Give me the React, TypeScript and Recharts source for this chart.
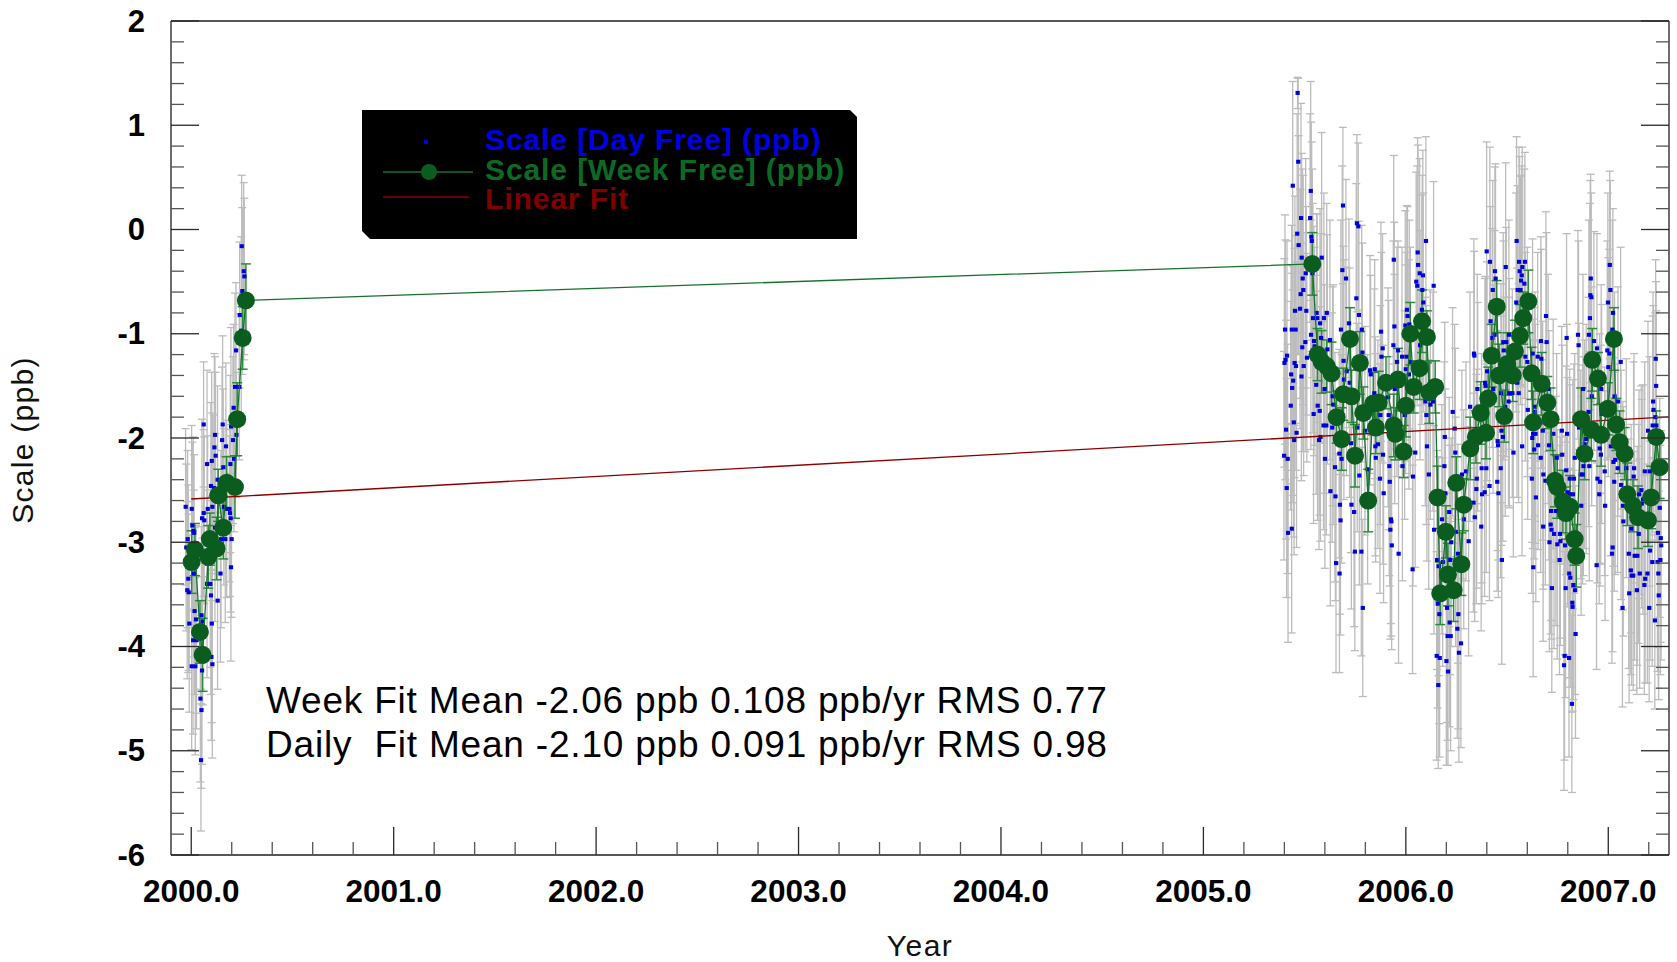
import { ScatterChart, Scatter, XAxis, YAxis, ErrorBar } from 'recharts'

// [decimal year, scale (ppb), error (ppb)]
type Pt = [number, number, number]

const yearTicks = [2000, 2001, 2002, 2003, 2004, 2005, 2006, 2007]
const yearMinorTicks = [
  2000.2, 2000.4, 2000.6, 2000.8, 2001.2, 2001.4, 2001.6, 2001.8, 2002.2, 2002.4, 2002.6, 2002.8,
  2003.2, 2003.4, 2003.6, 2003.8, 2004.2, 2004.4, 2004.6, 2004.8, 2005.2, 2005.4, 2005.6, 2005.8,
  2006.2, 2006.4, 2006.6, 2006.8, 2007.2,
]
const scaleTicks = [-6, -5, -4, -3, -2, -1, 0, 1, 2]
const scaleMinorTicks = [
  -5.8, -5.6, -5.4, -5.2, -4.8, -4.6, -4.4, -4.2, -3.8, -3.6, -3.4, -3.2, -2.8, -2.6, -2.4, -2.2,
  -1.8, -1.6, -1.4, -1.2, -0.8, -0.6, -0.4, -0.2, 0.2, 0.4, 0.6, 0.8, 1.2, 1.4, 1.6, 1.8,
]

// daily solution, early 2000
const day2000: Pt[] = [
  [2000.249, -0.16, 0.68], [2000.259, -0.4, 0.85], [2000.262, -0.45, 0.75], [2000.252, -0.59, 0.8],
  [2000.239, -0.82, 0.7], [2000.247, -0.97, 0.9], [2000.221, -1.16, 0.65], [2000.216, -1.51, 0.9],
  [2000.237, -1.51, 0.7], [2000.209, -1.71, 0.8], [2000.061, -1.87, 0.6], [2000.155, -1.87, 0.85],
  [2000.196, -1.89, 0.95], [2000.117, -1.97, 0.75], [2000.223, -1.97, 0.6], [2000.152, -2.02, 0.7],
  [2000.206, -2.02, 0.8], [2000.114, -2.09, 0.9], [2000.171, -2.08, 0.8], [2000.101, -2.22, 0.85],
  [2000.078, -2.25, 0.9], [2000.211, -2.2, 0.7], [2000.12, -2.17, 0.8], [2000.158, -2.28, 0.75],
  [2000.193, -2.25, 0.85], [2000.097, -2.46, 0.8], [2000.112, -2.48, 0.7], [2000.13, -2.4, 0.9],
  [1999.972, -2.66, 0.75], [2000.002, -2.68, 0.8], [2000.104, -2.66, 0.9], [2000.081, -2.68, 0.7],
  [2000.061, -2.72, 0.8], [2000.053, -2.77, 0.95], [2000.064, -2.79, 0.8], [2000.161, -2.66, 0.75],
  [2000.175, -2.68, 0.85], [2000.188, -2.68, 0.7], [2000.191, -2.72, 0.8], [2000.194, -2.77, 0.9],
  [2000.005, -2.84, 0.8], [2000.01, -2.89, 0.9], [2000.014, -2.91, 0.75], [1999.982, -2.97, 0.85],
  [1999.975, -3.05, 0.8], [2000.117, -2.86, 0.9], [2000.147, -2.97, 0.85], [2000.168, -2.97, 0.8],
  [2000.199, -2.97, 0.75], [2000.196, -3.24, 0.9], [2000.144, -3.3, 0.85], [2000.012, -3.3, 0.8],
  [1999.985, -3.35, 0.9], [1999.98, -3.46, 0.85], [1999.987, -3.48, 0.75], [2000.078, -3.4, 0.9],
  [2000.094, -3.4, 0.8], [2000.097, -3.51, 0.95], [2000.13, -3.56, 0.85], [2000.016, -3.66, 0.8],
  [2000.05, -3.7, 0.85], [2000.023, -3.74, 0.9], [2000.056, -3.76, 0.8], [2000.101, -3.78, 0.95],
  [1999.99, -3.78, 0.85], [2000.009, -3.94, 0.9], [2000.026, -3.94, 0.85], [2000.099, -4.1, 0.8],
  [2000.104, -4.17, 0.9], [2000.002, -4.19, 0.8], [2000.02, -4.19, 0.85], [2000.053, -4.23, 0.9],
  [2000.045, -4.5, 0.8], [2000.05, -4.61, 0.75], [2000.048, -5.09, 0.68],
]

// daily solution, mid 2005 - end 2005
const day2005: Pt[] = [
  [2005.465, 1.31, 0.15], [2005.468, 0.65, 0.8], [2005.441, 0.42, 1.0], [2005.53, 0.37, 1.05],
  [2005.482, 0.11, 1.1], [2005.527, 0.11, 1.0], [2005.463, -0.04, 1.15], [2005.533, -0.07, 1.1],
  [2005.535, -0.11, 0.95], [2005.47, -0.15, 1.05], [2005.485, -0.27, 1.0], [2005.584, -0.27, 1.2],
  [2005.689, 0.23, 0.75], [2005.758, 0.06, 0.85], [2005.765, 0.03, 0.8], [2005.505, -0.42, 1.1],
  [2005.538, -0.42, 1.0], [2005.49, -0.47, 1.05], [2005.686, -0.39, 1.0], [2005.704, -0.47, 0.95],
  [2005.493, -0.58, 1.1], [2005.48, -0.62, 1.0], [2005.755, -0.66, 1.1], [2005.477, -0.76, 1.15],
  [2005.508, -0.78, 1.0], [2005.452, -0.78, 1.1], [2005.559, -0.8, 0.95], [2005.609, -0.8, 1.05],
  [2005.768, -0.82, 0.9], [2005.541, -0.85, 1.1], [2005.562, -0.85, 1.0], [2005.595, -0.85, 1.2],
  [2005.576, -0.9, 1.1], [2005.719, -0.9, 1.0], [2005.403, -0.96, 1.1], [2005.436, -0.96, 1.0],
  [2005.455, -0.96, 0.9], [2005.679, -0.96, 1.05], [2005.782, -0.96, 1.0], [2005.531, -1.01, 1.1],
  [2005.581, -1.04, 1.0], [2005.625, -1.06, 1.15], [2005.503, -1.08, 1.05], [2005.546, -1.07, 1.1],
  [2005.488, -1.13, 1.0], [2005.549, -1.12, 0.95], [2005.612, -1.15, 1.1], [2005.785, -1.18, 1.05],
  [2005.413, -1.21, 1.1], [2005.511, -1.23, 1.0], [2005.405, -1.25, 1.15], [2005.4, -1.28, 1.0],
  [2005.45, -1.28, 1.1], [2005.457, -1.31, 1.0], [2005.495, -1.31, 1.05], [2005.692, -1.26, 1.1],
  [2005.707, -1.36, 1.0], [2005.823, -1.35, 1.1], [2005.433, -1.39, 1.05], [2005.484, -1.41, 1.0],
  [2005.694, -1.44, 1.15], [2005.443, -1.45, 1.1], [2005.826, -1.39, 0.95], [2005.557, -1.49, 1.05],
  [2005.722, -1.47, 1.1], [2005.598, -1.53, 1.0], [2005.438, -1.52, 1.1], [2005.638, -1.6, 1.05],
  [2005.431, -1.69, 1.0], [2005.564, -1.69, 1.1], [2005.574, -1.74, 1.0], [2005.544, -1.77, 1.05],
  [2005.641, -1.68, 1.15], [2005.446, -1.85, 1.1], [2005.593, -1.88, 1.0], [2005.607, -1.88, 1.05],
  [2005.636, -1.9, 1.1], [2005.76, -1.9, 1.0], [2005.408, -1.92, 1.05], [2005.46, -1.95, 1.1],
  [2005.578, -1.99, 1.0], [2005.571, -2.02, 1.05], [2005.448, -2.02, 1.1], [2005.798, -1.93, 1.0],
  [2005.729, -2.05, 1.05], [2005.398, -2.17, 1.0], [2005.416, -2.2, 1.1], [2005.6, -2.2, 1.05],
  [2005.682, -2.2, 1.0], [2005.65, -2.28, 1.1], [2005.671, -2.15, 1.0], [2005.77, -2.36, 1.05],
  [2005.811, -2.3, 1.1], [2005.411, -2.48, 1.05], [2005.627, -2.51, 1.1], [2005.652, -2.56, 1.0],
  [2005.674, -2.64, 1.05], [2005.731, -2.64, 1.0], [2005.744, -2.71, 1.1], [2005.436, -2.87, 1.0],
  [2005.418, -2.91, 1.05], [2005.677, -2.79, 1.1], [2005.748, -3.09, 0.95], [2005.78, -3.09, 1.0],
  [2005.655, -3.2, 1.05], [2005.672, -3.3, 0.95], [2005.787, -3.63, 0.85],
]

// daily solution, end 2005 - spring 2006
const day2006a: Pt[] = [
  [2005.94, -0.29, 1.0], [2006.058, -0.22, 1.1], [2006.099, -0.11, 1.0], [2006.06, -0.34, 1.15],
  [2006.068, -0.42, 1.1], [2006.084, -0.44, 1.2], [2006.051, -0.5, 1.05], [2006.056, -0.54, 1.15],
  [2006.137, -0.54, 1.0], [2006.081, -0.58, 1.1], [2006.086, -0.7, 1.05], [2006.005, -0.77, 1.0],
  [2006.079, -0.77, 1.1], [2006.008, -0.83, 1.05], [2005.943, -0.93, 1.0], [2005.997, -0.92, 1.1],
  [2006.017, -0.91, 1.0], [2005.877, -0.98, 1.05], [2005.885, -1.14, 1.1], [2005.938, -1.11, 1.0],
  [2005.961, -1.16, 1.05], [2006.07, -1.11, 1.1], [2005.879, -1.22, 1.0], [2005.956, -1.27, 1.1],
  [2005.981, -1.22, 1.05], [2006.003, -1.22, 1.0], [2006.022, -1.27, 1.1], [2005.846, -1.34, 1.05],
  [2005.999, -1.34, 1.0], [2006.015, -1.39, 1.1], [2005.844, -1.57, 1.0], [2005.912, -1.61, 1.05],
  [2005.945, -1.53, 1.1], [2006.096, -1.65, 1.0], [2006.134, -1.65, 1.05], [2006.121, -1.68, 1.1],
  [2006.231, -1.75, 1.0], [2005.874, -1.78, 1.05], [2005.915, -1.78, 1.1], [2005.994, -1.78, 1.0],
  [2006.101, -1.78, 1.05], [2006.241, -1.91, 1.0], [2006.192, -1.99, 1.1], [2005.849, -2.08, 1.05],
  [2005.862, -2.06, 1.0], [2006.104, -2.08, 1.1], [2005.851, -2.19, 1.0], [2005.887, -2.16, 1.05],
  [2006.046, -2.14, 1.1], [2006.244, -2.14, 1.0], [2005.918, -2.27, 1.05], [2005.983, -2.27, 1.1],
  [2006.19, -2.27, 1.0], [2006.297, -2.32, 1.05], [2005.872, -2.39, 1.1], [2005.92, -2.42, 1.0],
  [2006.035, -2.37, 1.05], [2006.113, -2.35, 1.1], [2006.277, -2.35, 1.0], [2005.89, -2.53, 1.05],
  [2006.195, -2.53, 1.0], [2006.214, -2.71, 1.1], [2006.286, -2.78, 1.05], [2005.926, -2.78, 1.0],
  [2005.928, -2.8, 1.1], [2005.923, -2.88, 1.05], [2006.139, -2.88, 1.0], [2006.178, -2.78, 1.1],
  [2005.93, -3.03, 1.0], [2005.964, -3.11, 1.05], [2006.246, -2.9, 1.1], [2006.224, -3.0, 1.0],
  [2006.257, -3.11, 1.05], [2006.31, -2.99, 1.1], [2006.033, -3.26, 1.0], [2006.154, -3.17, 1.05],
  [2006.182, -3.19, 1.0], [2006.219, -3.17, 1.1], [2006.162, -3.23, 1.05], [2006.157, -3.59, 1.0],
  [2006.203, -3.63, 1.1], [2006.165, -3.69, 1.05], [2006.216, -3.77, 1.0], [2006.259, -3.69, 1.1],
  [2006.254, -3.83, 1.05], [2006.206, -3.9, 1.0], [2006.221, -3.9, 1.1], [2006.272, -3.97, 1.0],
  [2006.262, -4.06, 1.05], [2006.152, -4.09, 1.0], [2006.167, -4.11, 0.95], [2006.2, -4.14, 1.0],
  [2006.208, -4.24, 0.9], [2006.16, -4.37, 0.8],
]

// daily solution, spring - autumn 2006
const day2006b: Pt[] = [
  [2006.547, -0.11, 1.0], [2006.399, -0.21, 1.05], [2006.415, -0.31, 1.1], [2006.493, -0.36, 1.0],
  [2006.559, -0.31, 1.1], [2006.588, -0.31, 1.05], [2006.575, -0.36, 1.15], [2006.44, -0.4, 1.0],
  [2006.562, -0.4, 1.1], [2006.572, -0.44, 1.05], [2006.443, -0.47, 1.1], [2006.569, -0.49, 1.0],
  [2006.585, -0.52, 1.1], [2006.429, -0.58, 1.05], [2006.552, -0.58, 1.0], [2006.566, -0.58, 1.1],
  [2006.545, -0.7, 1.05], [2006.692, -0.83, 1.0], [2006.418, -0.88, 1.1], [2006.438, -1.01, 1.0],
  [2006.427, -1.04, 1.05], [2006.509, -1.01, 1.1], [2006.794, -1.04, 1.0], [2006.481, -1.08, 1.05],
  [2006.496, -1.08, 1.1], [2006.667, -1.07, 1.0], [2006.695, -1.08, 1.05], [2006.336, -1.19, 1.1],
  [2006.338, -1.21, 1.0], [2006.483, -1.16, 1.05], [2006.626, -1.19, 1.1], [2006.651, -1.22, 1.0],
  [2006.669, -1.24, 1.05], [2006.6, -1.27, 1.1], [2006.59, -1.22, 1.0], [2006.401, -1.36, 1.05],
  [2006.549, -1.47, 1.1], [2006.391, -1.47, 1.0], [2006.393, -1.5, 1.05], [2006.353, -1.53, 1.1],
  [2006.431, -1.53, 1.0], [2006.47, -1.57, 1.05], [2006.511, -1.57, 1.1], [2006.526, -1.57, 1.0],
  [2006.557, -1.57, 1.05], [2006.703, -1.53, 1.1], [2006.507, -1.65, 1.0], [2006.491, -1.7, 1.05],
  [2006.317, -1.7, 1.1], [2006.355, -1.7, 1.0], [2006.602, -1.73, 1.05], [2006.638, -1.7, 1.1],
  [2006.636, -1.75, 1.0], [2006.64, -1.96, 1.05], [2006.628, -1.96, 1.1], [2006.624, -2.0, 1.0],
  [2006.676, -1.93, 1.05], [2006.728, -1.96, 1.1], [2006.77, -1.93, 1.0], [2006.796, -1.96, 1.05],
  [2006.472, -1.93, 1.1], [2006.479, -1.99, 1.0], [2006.453, -2.03, 1.05], [2006.455, -2.07, 1.1],
  [2006.653, -2.07, 1.0], [2006.574, -2.08, 1.05], [2006.707, -2.07, 1.1], [2006.531, -2.14, 1.0],
  [2006.634, -2.11, 1.05], [2006.666, -2.19, 1.1], [2006.745, -2.19, 1.0], [2006.772, -2.16, 1.05],
  [2006.374, -2.29, 1.1], [2006.397, -2.29, 1.0], [2006.468, -2.29, 1.05], [2006.679, -2.35, 1.1],
  [2006.792, -2.31, 1.0], [2006.35, -2.39, 1.05], [2006.622, -2.39, 1.1], [2006.689, -2.41, 1.0],
  [2006.451, -2.42, 1.05], [2006.413, -2.46, 1.1], [2006.389, -2.52, 1.0], [2006.376, -2.54, 1.05],
  [2006.348, -2.49, 1.1], [2006.457, -2.53, 1.0], [2006.334, -2.62, 1.05], [2006.799, -2.52, 1.1],
  [2006.642, -2.57, 1.0], [2006.717, -2.7, 1.05], [2006.741, -2.7, 1.1], [2006.34, -2.76, 1.0],
  [2006.715, -2.83, 1.05], [2006.678, -2.85, 1.1], [2006.372, -2.85, 1.0], [2006.719, -2.88, 1.05],
  [2006.732, -2.92, 1.1], [2006.761, -2.92, 1.0], [2006.709, -3.0, 1.05], [2006.748, -3.02, 1.1],
  [2006.763, -2.99, 1.0], [2006.786, -3.03, 1.05], [2006.474, -3.17, 1.0], [2006.759, -3.17, 1.1],
  [2006.629, -3.24, 1.05], [2006.721, -3.44, 1.0], [2006.789, -3.44, 1.05], [2006.784, -4.09, 1.0],
  [2006.781, -4.18, 1.2],
]

// daily solution, autumn 2006 - spring 2007
const day2007: Pt[] = [
  [2007.007, -0.34, 0.9], [2006.913, -0.47, 1.0], [2007.01, -0.58, 1.05], [2006.911, -0.63, 1.1],
  [2006.916, -0.65, 1.0], [2006.998, -0.7, 1.05], [2007.023, -0.8, 1.0], [2006.909, -0.85, 1.1],
  [2007.02, -0.96, 1.05], [2006.85, -1.01, 1.0], [2006.904, -1.01, 1.1], [2006.929, -1.07, 1.05],
  [2006.853, -1.11, 1.0], [2006.944, -1.14, 1.1], [2006.995, -1.16, 1.05], [2007.005, -1.19, 1.0],
  [2007.061, -1.27, 1.1], [2007.234, -1.24, 0.95], [2007.0, -1.32, 1.05], [2006.965, -1.53, 1.0],
  [2006.875, -1.53, 1.1], [2006.918, -1.6, 1.05], [2007.031, -1.6, 1.0], [2007.048, -1.65, 1.1],
  [2007.236, -1.5, 1.0], [2007.221, -1.65, 1.05], [2007.223, -1.73, 1.0], [2006.902, -1.75, 1.1],
  [2006.967, -1.77, 1.05], [2007.232, -1.8, 1.0], [2007.219, -1.88, 1.05], [2007.237, -1.88, 1.1],
  [2006.855, -1.9, 1.0], [2007.196, -1.93, 1.05], [2006.891, -2.01, 1.1], [2006.883, -2.06, 1.0],
  [2007.012, -2.08, 1.05], [2006.957, -2.1, 1.1], [2006.834, -2.19, 1.0], [2006.963, -2.16, 1.05],
  [2007.034, -2.21, 1.1], [2007.025, -2.23, 1.0], [2006.877, -2.27, 1.05], [2006.906, -2.27, 1.1],
  [2007.046, -2.29, 1.0], [2007.089, -2.29, 1.05], [2007.127, -2.29, 1.1], [2006.982, -2.32, 1.0],
  [2007.18, -2.32, 1.05], [2007.204, -2.32, 1.1], [2006.864, -2.35, 1.0], [2006.873, -2.35, 1.05],
  [2007.125, -2.37, 1.1], [2006.946, -2.39, 1.0], [2006.809, -2.39, 1.05], [2006.83, -2.39, 1.1],
  [2006.959, -2.42, 1.0], [2007.029, -2.42, 1.05], [2007.063, -2.45, 1.1], [2007.163, -2.5, 1.0],
  [2006.811, -2.54, 1.05], [2006.825, -2.54, 1.1], [2007.152, -2.54, 1.0], [2006.955, -2.54, 1.05],
  [2007.171, -2.59, 1.1], [2007.165, -2.63, 1.0], [2006.866, -2.65, 1.05], [2006.984, -2.65, 1.1],
  [2007.072, -2.65, 1.0], [2007.254, -2.67, 1.05], [2007.074, -2.8, 1.1], [2007.113, -2.87, 1.0],
  [2007.15, -2.92, 1.05], [2007.245, -2.91, 1.1], [2007.259, -2.96, 1.0], [2007.206, -3.08, 1.05],
  [2007.261, -3.03, 1.1], [2007.021, -3.05, 1.0], [2007.018, -3.11, 1.05], [2007.101, -3.11, 1.1],
  [2007.13, -3.13, 1.0], [2007.143, -3.13, 1.05], [2007.257, -3.17, 1.1], [2007.217, -3.19, 1.0],
  [2007.243, -3.19, 1.05], [2007.155, -3.3, 1.1], [2007.111, -3.27, 1.0], [2007.115, -3.32, 1.05],
  [2007.123, -3.32, 1.1], [2007.182, -3.35, 1.0], [2007.193, -3.3, 1.05], [2007.247, -3.3, 1.1],
  [2006.807, -3.3, 1.0], [2006.812, -3.34, 1.05], [2006.827, -3.41, 1.1], [2006.836, -3.46, 1.0],
  [2007.178, -3.41, 1.05], [2007.141, -3.46, 1.0], [2007.103, -3.49, 1.05], [2007.249, -3.51, 1.0],
  [2006.822, -3.58, 1.05], [2006.823, -3.62, 1.0], [2007.07, -3.63, 0.95], [2007.202, -3.63, 0.9],
  [2007.23, -3.75, 0.85], [2006.838, -3.88, 1.0], [2006.806, -4.11, 0.95], [2006.942, -3.22, 1.0],
  [2006.82, -4.55, 0.85],
]

// weekly solution (connected in time order)
const week2000: Pt[] = [
  [2000.002, -3.19, 0.3], [2000.018, -3.07, 0.25], [2000.043, -3.86, 0.3], [2000.056, -4.08, 0.35],
  [2000.084, -3.14, 0.3], [2000.092, -2.97, 0.25], [2000.125, -3.06, 0.3], [2000.133, -2.55, 0.25],
  [2000.158, -2.86, 0.3], [2000.175, -2.43, 0.25], [2000.216, -2.47, 0.3], [2000.227, -1.82, 0.35],
  [2000.254, -1.04, 0.3], [2000.27, -0.68, 0.35],
]

const week2005: Pt[] = [
  [2005.538, -0.33, 0.3], [2005.564, -1.2, 0.25], [2005.584, -1.27, 0.3], [2005.609, -1.31, 0.25],
  [2005.633, -1.38, 0.3], [2005.658, -1.8, 0.25], [2005.683, -2.01, 0.3], [2005.691, -1.58, 0.25],
  [2005.724, -1.05, 0.3], [2005.732, -1.6, 0.25], [2005.749, -2.17, 0.3], [2005.773, -1.28, 0.3],
  [2005.79, -1.76, 0.25], [2005.814, -2.6, 0.3], [2005.839, -1.67, 0.3], [2005.852, -1.9, 0.25],
  [2005.866, -1.66, 0.3], [2005.902, -1.47, 0.25], [2005.94, -1.88, 0.3], [2005.948, -1.96, 0.25],
  [2005.961, -1.44, 0.3], [2005.989, -2.13, 0.25], [2006.0, -1.69, 0.3], [2006.022, -1.0, 0.3],
  [2006.039, -1.51, 0.25], [2006.068, -1.33, 0.3], [2006.08, -0.88, 0.3], [2006.104, -1.03, 0.25],
  [2006.116, -1.56, 0.3], [2006.145, -1.51, 0.25], [2006.157, -2.57, 0.3], [2006.17, -3.49, 0.3],
  [2006.198, -2.9, 0.25], [2006.208, -3.31, 0.3], [2006.236, -3.46, 0.3], [2006.249, -2.43, 0.25],
  [2006.274, -3.21, 0.3], [2006.286, -2.64, 0.25], [2006.318, -2.1, 0.3], [2006.346, -1.99, 0.25],
  [2006.37, -1.76, 0.3], [2006.396, -1.95, 0.25], [2006.407, -1.62, 0.3], [2006.424, -1.21, 0.3],
  [2006.449, -0.74, 0.25], [2006.461, -1.4, 0.3], [2006.486, -1.79, 0.25], [2006.501, -1.29, 0.3],
  [2006.528, -1.4, 0.25], [2006.539, -1.17, 0.3], [2006.564, -1.02, 0.3], [2006.58, -0.85, 0.25],
  [2006.605, -0.69, 0.3], [2006.621, -1.38, 0.25], [2006.629, -1.85, 0.3], [2006.671, -1.48, 0.3],
  [2006.699, -1.66, 0.25], [2006.715, -1.82, 0.3], [2006.737, -2.41, 0.25], [2006.748, -2.47, 0.3],
  [2006.776, -2.61, 0.3], [2006.791, -2.72, 0.25], [2006.811, -2.66, 0.3], [2006.834, -2.97, 0.25],
  [2006.842, -3.13, 0.3], [2006.866, -1.82, 0.3], [2006.883, -2.15, 0.25], [2006.916, -1.92, 0.3],
  [2006.921, -1.25, 0.3], [2006.949, -1.43, 0.25], [2006.965, -1.97, 0.3], [2006.998, -1.72, 0.25],
  [2007.028, -1.05, 0.3], [2007.039, -1.87, 0.25], [2007.056, -2.04, 0.3], [2007.081, -2.15, 0.25],
  [2007.094, -2.54, 0.3], [2007.122, -2.65, 0.25], [2007.147, -2.76, 0.3], [2007.196, -2.79, 0.25],
  [2007.212, -2.57, 0.3], [2007.237, -1.99, 0.25], [2007.254, -2.28, 0.3],
]

// linear fit end points
const fitYears = [2000.0, 2007.3]
const fitValues = [-2.585, -1.797]

const toRows = (pts: Pt[]) => pts.map(([x, y, e]) => ({ x, y, e }))

const dailyRows = toRows([...day2000, ...day2005, ...day2006a, ...day2006b, ...day2007])
const weekRows = toRows([...week2000, ...week2005])
const fitRows = fitYears.map((x, i) => ({ x, y: fitValues[i] }))

const allYearTicks = [...yearTicks, ...yearMinorTicks]
const allScaleTicks = [...scaleTicks, ...scaleMinorTicks]

const FONT = '"Liberation Sans", Arial, Helvetica, sans-serif'
const X_DOMAIN: [number, number] = [1999.9, 2007.3]
const Y_DOMAIN: [number, number] = [-6, 2]

const DAY_BLUE = '#0000dc'
const WEEK_GREEN = '#0a5d1f'
const FIT_RED = '#8a0000'

const MAJOR_LEN = 28
const MINOR_LEN = 13

const axisLineStyle = { stroke: '#1e1e1e', strokeWidth: 1.3 }
const tickStroke = (major: boolean) => ({ stroke: major ? '#2a2a2a' : '#555', strokeWidth: 1.3 })

// inward tick marks drawn from the axis position that recharts hands each tick
const bottomTick = (props: any) => {
  const v = Number(props.payload.value)
  const major = yearTicks.includes(v)
  return (
    <g>
      <line x1={props.x} y1={props.y} x2={props.x} y2={props.y - (major ? MAJOR_LEN : MINOR_LEN)} {...tickStroke(major)} />
      {major && (
        <text x={props.x} y={props.y + 36} textAnchor="middle" dominantBaseline="central"
          fontFamily={FONT} fontSize={31.5} fontWeight="bold" fill="#000">
          {v.toFixed(1)}
        </text>
      )}
    </g>
  )
}

const topTick = (props: any) => {
  const major = yearTicks.includes(Number(props.payload.value))
  return <line x1={props.x} y1={props.y} x2={props.x} y2={props.y + (major ? MAJOR_LEN : MINOR_LEN)} {...tickStroke(major)} />
}

const leftTick = (props: any) => {
  const v = Number(props.payload.value)
  const major = scaleTicks.includes(v)
  return (
    <g>
      <line x1={props.x} y1={props.y} x2={props.x + (major ? MAJOR_LEN : MINOR_LEN)} y2={props.y} {...tickStroke(major)} />
      {major && (
        <text x={props.x - 26} y={props.y} textAnchor="end" dominantBaseline="central"
          fontFamily={FONT} fontSize={31} fontWeight="bold" fill="#000">
          {String(v)}
        </text>
      )}
    </g>
  )
}

const rightTick = (props: any) => {
  const major = scaleTicks.includes(Number(props.payload.value))
  return <line x1={props.x} y1={props.y} x2={props.x - (major ? MAJOR_LEN : MINOR_LEN)} y2={props.y} {...tickStroke(major)} />
}

const daySquare = (props: any) => (
  <rect x={props.cx - 2} y={props.cy - 2} width={4.2} height={4} fill={DAY_BLUE} />
)

const weekDot = (props: any) => <circle cx={props.cx} cy={props.cy} r={9} fill={WEEK_GREEN} />

const noDot = () => <g />

export default function App() {
  return (
    <div style={{ position: 'absolute', left: 0, top: 0, width: 1677, height: 962, background: '#fff' }}>
      <ScatterChart width={1677} height={962} margin={{ top: 21, right: 8, bottom: 107, left: 171 }}>
        <XAxis xAxisId="x" type="number" dataKey="x" domain={X_DOMAIN} allowDataOverflow
          ticks={allYearTicks} interval={0} mirror height={1} tickSize={0} tickMargin={0}
          axisLine={axisLineStyle} tickLine={false} tick={bottomTick} />
        <XAxis xAxisId="xt" type="number" orientation="top" domain={X_DOMAIN} allowDataOverflow
          ticks={allYearTicks} interval={0} mirror height={1} tickSize={0} tickMargin={0}
          axisLine={axisLineStyle} tickLine={false} tick={topTick} />
        <YAxis yAxisId="y" type="number" dataKey="y" domain={Y_DOMAIN} allowDataOverflow
          ticks={allScaleTicks} interval={0} mirror width={1} tickSize={0} tickMargin={0}
          axisLine={axisLineStyle} tickLine={false} tick={leftTick} />
        <YAxis yAxisId="yr" type="number" orientation="right" domain={Y_DOMAIN} allowDataOverflow
          ticks={allScaleTicks} interval={0} mirror width={1} tickSize={0} tickMargin={0}
          axisLine={axisLineStyle} tickLine={false} tick={rightTick} />

        <Scatter xAxisId="x" yAxisId="y" data={dailyRows} shape={daySquare} isAnimationActive={false}>
          <ErrorBar dataKey="e" direction="y" width={4} stroke="#bcbcbc" strokeWidth={1.3} isAnimationActive={false} />
        </Scatter>
        <Scatter xAxisId="x" yAxisId="y" data={fitRows} shape={noDot} isAnimationActive={false}
          line={{ stroke: FIT_RED, strokeWidth: 1.3 }} lineJointType="linear" />
        <Scatter xAxisId="x" yAxisId="y" data={weekRows} shape={weekDot} isAnimationActive={false}
          line={{ stroke: '#17712c', strokeWidth: 1.3 }} lineJointType="linear">
          <ErrorBar dataKey="e" direction="y" width={5} stroke="#2c8a3c" strokeWidth={1.5} isAnimationActive={false} />
        </Scatter>
      </ScatterChart>

      <svg width={1677} height={962} style={{ position: 'absolute', left: 0, top: 0, pointerEvents: 'none' }}>
        {/* legend box with clipped corners */}
        <polygon points="362,110 850,110 857,117 857,239 370,239 362,231" fill="#000" />
        <rect x={424} y={140} width={4} height={4} fill={DAY_BLUE} />
        <line x1={383} y1={172} x2={473} y2={172} stroke="#17712c" strokeWidth={1.3} />
        <circle cx={429} cy={172} r={8} fill={WEEK_GREEN} />
        <line x1={383} y1={197} x2={469} y2={197} stroke={FIT_RED} strokeWidth={1.3} />
        <g fontFamily={FONT} fontSize={30} fontWeight="bold" letterSpacing={0.9}>
          <text x={485} y={150} fill="#0000e0">Scale [Day Free] (ppb)</text>
          <text x={485} y={180} fill="#0c6a24">Scale [Week Free] (ppb)</text>
          <text x={485} y={209} fill="#800000">Linear Fit</text>
        </g>

        <g fontFamily={FONT} fontSize={37} fill="#000" letterSpacing={0.8} style={{ whiteSpace: 'pre' }}>
          <text x={266} y={713}>Week Fit Mean -2.06 ppb 0.108 ppb/yr RMS 0.77</text>
          <text x={266} y={757} xmlSpace="preserve">Daily  Fit Mean -2.10 ppb 0.091 ppb/yr RMS 0.98</text>
        </g>

        <text x={920} y={956} textAnchor="middle" fontFamily={FONT} fontSize={30} letterSpacing={1.5} fill="#111">Year</text>
        <text transform="translate(33,440) rotate(-90)" textAnchor="middle" fontFamily={FONT} fontSize={30}
          letterSpacing={1.3} fill="#111">
          Scale (ppb)
        </text>
      </svg>
    </div>
  )
}
